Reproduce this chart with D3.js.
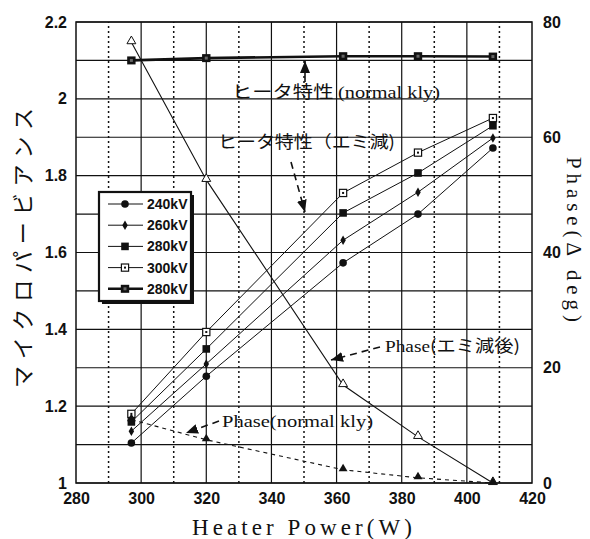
<!DOCTYPE html>
<html>
<head>
<meta charset="utf-8">
<script src="https://cdn.jsdelivr.net/npm/d3@7"></script>
<style>
  body { margin: 0; background: #fff; }
  svg { display: block; }
</style>
</head>
<body>
<div id="chart"></div>
<script>
// heater power (W) of each measured point
const heaterPower = [297, 320, 362, 385, 408];

// micro perveance, after emission drop
const perv240 = [1.104, 1.278, 1.573, 1.700, 1.872];
const perv260 = [1.135, 1.310, 1.632, 1.757, 1.898];
const perv280 = [1.159, 1.349, 1.703, 1.807, 1.930];
const perv300 = [1.180, 1.393, 1.755, 1.860, 1.950];
// micro perveance, normal klystron (280kV)
const pervNormal = [2.100, 2.106, 2.111, 2.111, 2.110];

// phase (delta deg)
const phaseEmi = [76.5, 52.6, 17.0, 8.0, 0];
const phaseNormal = [11.0, 7.5, 2.3, 0.9, 0];

const legendLabels = ["240kV", "260kV", "280kV", "300kV", "280kV"];
const xTicks = [280, 300, 320, 340, 360, 380, 400, 420];
const yTicks = [1, 1.2, 1.4, 1.6, 1.8, 2, 2.2];
const phaseTicks = [0, 20, 40, 60, 80];

const W = 590, H = 539;
const margin = { top: 22, right: 58, bottom: 56, left: 76 };
const ink = "#111";
const jp = "'Noto Sans CJK JP', sans-serif";
const serif = "'Liberation Serif', 'DejaVu Serif', serif";
const sans = "'Liberation Sans', Arial, sans-serif";

const svg = d3.select("#chart").append("svg")
    .attr("width", W)
    .attr("height", H);

const x = d3.scaleLinear().domain([280, 420]).range([margin.left, W - margin.right]);
const y = d3.scaleLinear().domain([1, 2.2]).range([H - margin.bottom, margin.top]);
const yP = d3.scaleLinear().domain([0, 80]).range([H - margin.bottom, margin.top]);

// arrow heads
const defs = svg.append("defs");
defs.append("marker")
    .attr("id", "head")
    .attr("viewBox", "0 0 12 10")
    .attr("refX", 12).attr("refY", 5)
    .attr("markerWidth", 12).attr("markerHeight", 10)
    .attr("markerUnits", "userSpaceOnUse")
    .attr("orient", "auto")
    .append("path")
    .attr("d", "M0,0 L12,5 L0,10 Z")
    .attr("fill", ink);

// grid
const grid = svg.append("g");
grid.selectAll(".hgrid")
    .data(d3.range(0, 13).map(i => 1 + i * 0.1))
    .join("line")
    .attr("x1", x(280)).attr("x2", x(420))
    .attr("y1", d => y(d)).attr("y2", d => y(d))
    .attr("stroke", ink).attr("stroke-width", 1.2);

grid.selectAll(".vsolid")
    .data(d3.range(300, 401, 20))
    .join("line")
    .attr("x1", d => x(d)).attr("x2", d => x(d))
    .attr("y1", y(1)).attr("y2", y(2.2))
    .attr("stroke", ink).attr("stroke-width", 1.2);

grid.selectAll(".vdot")
    .data(d3.range(290, 411, 20))
    .join("line")
    .attr("x1", d => x(d)).attr("x2", d => x(d))
    .attr("y1", y(1)).attr("y2", y(2.2))
    .attr("stroke", ink).attr("stroke-width", 1.5)
    .attr("stroke-dasharray", "2,3");

svg.append("rect")
    .attr("x", x(280)).attr("y", y(2.2))
    .attr("width", x(420) - x(280)).attr("height", y(1) - y(2.2))
    .attr("fill", "none").attr("stroke", ink).attr("stroke-width", 1.5);

// axes (labels only)
const axisStyle = g => {
    g.select(".domain").remove();
    g.selectAll("text")
        .attr("font-family", sans)
        .attr("font-weight", "bold")
        .attr("font-size", 16)
        .attr("fill", ink);
};

svg.append("g")
    .attr("transform", `translate(0,${y(1)})`)
    .call(d3.axisBottom(x).tickValues(xTicks).tickSize(0).tickPadding(10).tickFormat(d3.format("d")))
    .call(axisStyle);

svg.append("g")
    .attr("transform", `translate(${x(280)},0)`)
    .call(d3.axisLeft(y).tickValues(yTicks).tickSize(0).tickPadding(9).tickFormat(d => d3.format("")(d)))
    .call(axisStyle);

svg.append("g")
    .attr("transform", `translate(${x(420)},0)`)
    .call(d3.axisRight(yP).tickValues(phaseTicks).tickSize(0).tickPadding(11).tickFormat(d3.format("d")))
    .call(axisStyle);

// axis titles
svg.append("text")
    .attr("x", 192).attr("y", 535)
    .attr("font-family", serif).attr("font-size", 23)
    .attr("textLength", 220).attr("lengthAdjust", "spacing")
    .attr("fill", ink)
    .text("Heater Power(W)");

svg.append("text")
    .attr("transform", "translate(31,388) rotate(-90)")
    .attr("font-family", jp).attr("font-size", 22)
    .attr("textLength", 280).attr("lengthAdjust", "spacing")
    .attr("fill", ink)
    .text("マイクロパービアンス");

svg.append("text")
    .attr("transform", "translate(567,157) rotate(90)")
    .attr("font-family", serif).attr("font-size", 21)
    .attr("textLength", 165).attr("lengthAdjust", "spacing")
    .attr("fill", ink)
    .text("Phase(Δ deg)");

// series
const series = [
    { v: perv240, sym: "circle", w: 1 },
    { v: perv260, sym: "diamond", w: 1 },
    { v: perv280, sym: "square", w: 1 },
    { v: perv300, sym: "open", w: 1 },
    { v: pervNormal, sym: "thick", w: 2.6 }
];

const drawMarker = (g, sym, cx, cy) => {
    if (sym === "circle") {
        g.append("circle").attr("cx", cx).attr("cy", cy).attr("r", 3.8).attr("fill", ink);
    } else if (sym === "diamond") {
        g.append("path").attr("transform", `translate(${cx},${cy})`)
            .attr("d", d3.symbol(d3.symbolDiamond, 26)()).attr("fill", ink);
    } else if (sym === "square") {
        g.append("rect").attr("x", cx - 3.8).attr("y", cy - 3.8)
            .attr("width", 7.6).attr("height", 7.6).attr("fill", ink);
    } else if (sym === "open") {
        g.append("rect").attr("x", cx - 3.6).attr("y", cy - 3.6)
            .attr("width", 7.2).attr("height", 7.2)
            .attr("fill", "#fff").attr("stroke", ink).attr("stroke-width", 1.2);
        g.append("rect").attr("x", cx - 1).attr("y", cy - 1)
            .attr("width", 2).attr("height", 2).attr("fill", ink);
    } else {
        g.append("rect").attr("x", cx - 4.2).attr("y", cy - 4)
            .attr("width", 8.4).attr("height", 8).attr("fill", ink);
        g.append("rect").attr("x", cx - 1.5).attr("y", cy - 1.5)
            .attr("width", 3).attr("height", 3).attr("fill", "#666");
    }
};

const line = d3.line().x((d, i) => x(heaterPower[i]));

series.forEach(s => {
    const g = svg.append("g");
    g.append("path")
        .attr("d", line.y(d => y(d))(s.v))
        .attr("fill", "none").attr("stroke", ink).attr("stroke-width", s.w);
    s.v.forEach((d, i) => drawMarker(g, s.sym, x(heaterPower[i]), y(d)));
});

// phase curves
const pLine = d3.line().x((d, i) => x(heaterPower[i])).y(d => yP(d));
const tri = d3.symbol(d3.symbolTriangle, 34);

svg.append("path")
    .attr("d", pLine(phaseEmi))
    .attr("fill", "none").attr("stroke", ink).attr("stroke-width", 1.1);
svg.selectAll(".triOpen")
    .data(phaseEmi)
    .join("path")
    .attr("transform", (d, i) => `translate(${x(heaterPower[i])},${yP(d) - 1})`)
    .attr("d", tri())
    .attr("fill", "#fff").attr("stroke", ink).attr("stroke-width", 1);

svg.append("path")
    .attr("d", pLine(phaseNormal))
    .attr("fill", "none").attr("stroke", ink).attr("stroke-width", 1.1)
    .attr("stroke-dasharray", "4,4");
svg.selectAll(".triFill")
    .data(phaseNormal)
    .join("path")
    .attr("transform", (d, i) => `translate(${x(heaterPower[i])},${yP(d) - 1})`)
    .attr("d", tri())
    .attr("fill", ink);

// legend
const lg = svg.append("g");
lg.append("rect")
    .attr("x", 102).attr("y", 195).attr("width", 92).attr("height", 109)
    .attr("fill", ink);
lg.append("rect")
    .attr("x", 99).attr("y", 192).attr("width", 92).attr("height", 109)
    .attr("fill", "#fff").attr("stroke", ink).attr("stroke-width", 2.2);
legendLabels.forEach((lab, i) => {
    const ly = 204 + i * 21.2;
    lg.append("line")
        .attr("x1", 108).attr("x2", 143).attr("y1", ly).attr("y2", ly)
        .attr("stroke", ink).attr("stroke-width", series[i].w);
    drawMarker(lg, series[i].sym, 125, ly);
    lg.append("text")
        .attr("x", 147).attr("y", ly + 5)
        .attr("font-family", sans).attr("font-weight", "bold").attr("font-size", 14)
        .attr("fill", ink)
        .text(lab);
});

// annotations
const note = (tx, ty, len, parts) => {
    const t = svg.append("text")
        .attr("x", tx).attr("y", ty)
        .attr("font-size", 17).attr("fill", ink)
        .attr("textLength", len).attr("lengthAdjust", "spacingAndGlyphs");
    parts.forEach(p => t.append("tspan").attr("font-family", p[1]).text(p[0]));
};
note(232, 98, 208, [["ヒータ特性 ", jp], ["(normal kly)", serif]]);
note(218, 148, 177, [["ヒータ特性（エミ減)", jp]]);
note(385, 352, 135, [["Phase", serif], ["(エミ減後)", jp]]);
note(222, 427, 151, [["Phase(normal kly)", serif]]);

const arrow = (x1, y1, x2, y2, dash) => {
    svg.append("line")
        .attr("x1", x1).attr("y1", y1).attr("x2", x2).attr("y2", y2)
        .attr("stroke", ink).attr("stroke-width", 1.6)
        .attr("stroke-dasharray", dash ? "7,5" : null)
        .attr("marker-end", "url(#head)");
};
arrow(305, 82, 305, 61, false);
arrow(291, 162, 305, 212, true);
arrow(380, 347, 331, 360, true);
arrow(219, 421, 186, 433, true);
</script>
</body>
</html>
